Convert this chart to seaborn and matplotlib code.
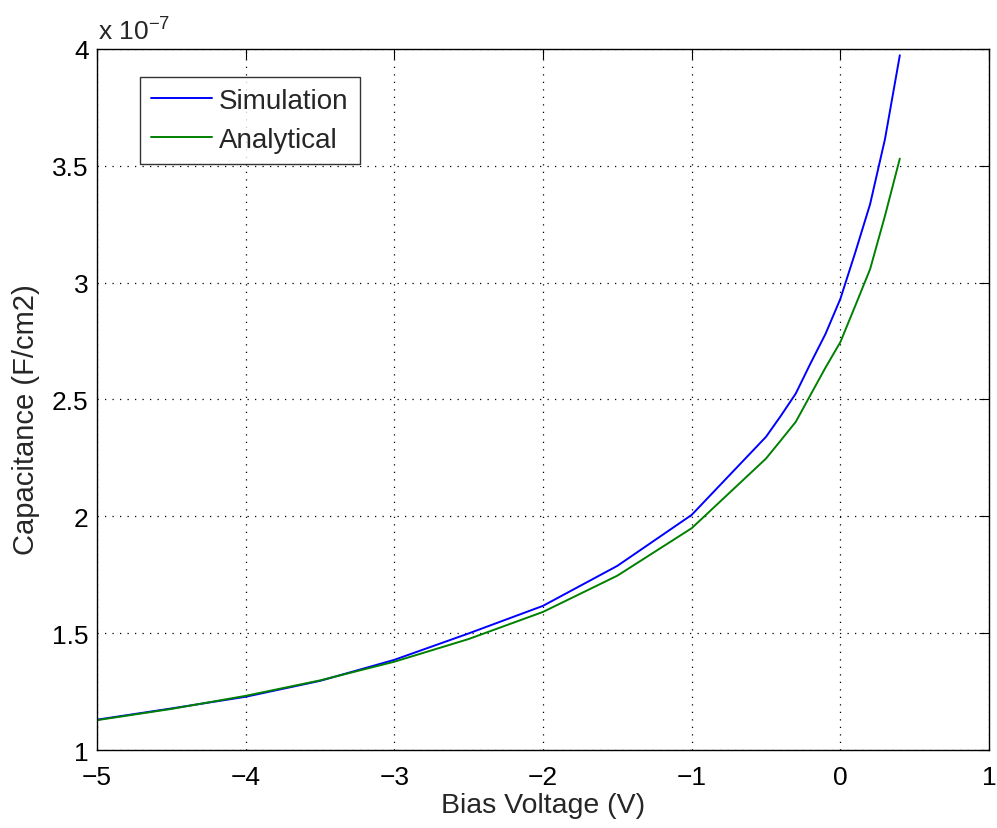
import matplotlib
matplotlib.use("Agg")
import matplotlib.pyplot as plt
import seaborn as sns
import pandas as pd

bias_voltage = [-5.0, -4.5, -4.0, -3.5, -3.0, -2.5, -2.0, -1.5, -1.0, -0.5,
                -0.4, -0.3, -0.2, -0.1, 0.0, 0.1, 0.2, 0.3, 0.4]
simulation = [1.13, 1.178, 1.228, 1.296, 1.386, 1.499, 1.617, 1.788, 2.006, 2.34,
              2.43, 2.525, 2.655, 2.78, 2.93, 3.128, 3.335, 3.613, 3.972]
analytical = [1.128, 1.176, 1.232, 1.298, 1.378, 1.475, 1.591, 1.746, 1.949, 2.247,
              2.325, 2.404, 2.52, 2.636, 2.745, 2.90, 3.057, 3.285, 3.53]
series_names = ["Simulation", "Analytical"]
x_ticks = [-5, -4, -3, -2, -1, 0, 1]
y_ticks = [1, 1.5, 2, 2.5, 3, 3.5, 4]

df = pd.DataFrame({
    "Bias Voltage (V)": bias_voltage * 2,
    "Capacitance": simulation + analytical,
    "Series": [series_names[0]] * len(bias_voltage) + [series_names[1]] * len(bias_voltage),
})

sns.set_style("white")
plt.rcParams["font.family"] = ["Liberation Sans", "DejaVu Sans"]
plt.rcParams["mathtext.fontset"] = "custom"
plt.rcParams["mathtext.rm"] = "Liberation Sans"

FS = 19

fig = plt.figure(figsize=(9.97, 8.29), dpi=100)
ax = fig.add_axes([0.0973, 0.094, 0.8947, 0.846])

sns.lineplot(data=df, x="Bias Voltage (V)", y="Capacitance", hue="Series",
             palette={"Simulation": "#0000ff", "Analytical": "#008000"},
             linewidth=1.4, ax=ax, sort=False)

ax.set_xlim(-5, 1)
ax.set_ylim(1, 4)
ax.set_xticks(x_ticks)
ax.set_yticks(y_ticks)
ax.set_xticklabels([("\u2212" + str(abs(t))) if t < 0 else str(t) for t in x_ticks])
ax.set_yticklabels([("%g" % t) for t in y_ticks])
ax.tick_params(direction="in", length=7, width=0.8, top=True, right=True,
               labelsize=FS, colors="black")
ax.tick_params(axis="x", pad=11)
ax.tick_params(axis="y", pad=6)
ax.grid(True, linestyle=(0, (1, 5)), color="black", linewidth=0.9)
for s in ax.spines.values():
    s.set_color("black")
    s.set_linewidth(1.0)

ax.set_xlabel("Bias Voltage (V)", fontsize=20.5, labelpad=2)
ax.set_ylabel("Capacitance (F/cm2)", fontsize=21)
ax.yaxis.set_label_coords(-0.064, 0.472)

fig.text(0.098, 1 - 40 / 829, r"x 10$^{-7}$", fontsize=FS, ha="left", va="baseline")

leg = ax.legend(loc="upper left", bbox_to_anchor=(0.1404, 0.906),
                bbox_transform=fig.transFigure, fontsize=20, frameon=True,
                fancybox=False, edgecolor="black", handlelength=2.2,
                handletextpad=0.25, borderpad=0.4, labelspacing=0.45,
                borderaxespad=0)
leg.get_frame().set_linewidth(1.0)
leg.set_title(None)

fig.savefig("out.png", dpi=100, facecolor="white")
